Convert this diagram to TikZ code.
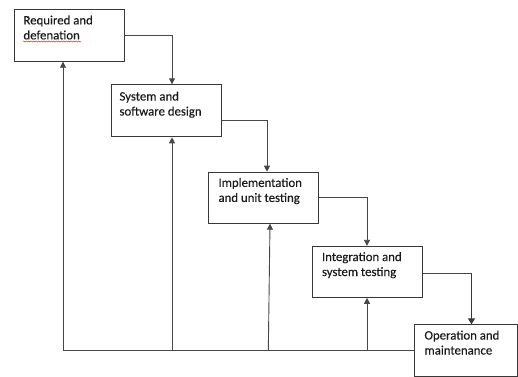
\documentclass[tikz,border=0pt]{standalone}
\usepackage{fontspec}
\setmainfont{Carlito}[FakeBold=0.3]
\usetikzlibrary{arrows.meta,decorations.pathmorphing}
\begin{document}
\begin{tikzpicture}[x=1pt,y=-1pt,
  box/.style={draw=black!78,line width=1pt,anchor=north west,inner sep=0pt,minimum width=110pt,minimum height=52pt},
  txt/.style={anchor=north west,inner sep=0pt,align=left,text=black!90,font=\fontsize{12.8}{15}\selectfont},
  link/.style={draw=black!72,line width=0.9pt},
  arr/.style={link,-{Triangle[length=6pt,width=6pt]}},
  bold arr/.style={draw=black!78,line width=1.8pt,-{Triangle[length=6pt,width=7pt]}}]
\useasboundingbox (0,0) rectangle (518,376);
% boxes
\node[box] (b1) at (14.3,8.7) {};
\node[box] (b2) at (111,84.3) {};
\node[box,minimum height=51pt] (b3) at (208.3,171.7) {};
\node[box,minimum width=109.7pt,minimum height=51pt] (b4) at (312.3,245.8) {};
\node[box,minimum width=102.7pt] (b5) at (414.3,324.3) {};
% texts
\node[txt] (t1) at ([xshift=9pt,yshift=-5pt]b1.north west) {\strut Required and\\defenation};
\node[txt] (t2) at ([xshift=8.3pt,yshift=-5.5pt]b2.north west) {\strut System and\\software design};
\node[txt] (t3) at ([xshift=10pt,yshift=-4.5pt]b3.north west) {\strut Implementation\\and unit testing};
\node[txt] (t4) at ([xshift=9.5pt,yshift=-4.5pt]b4.north west) {\strut Integration and\\system testing};
\node[txt] (t5) at ([xshift=10pt,yshift=-4.5pt]b5.north west) {\strut Operation and\\maintenance};
% spell-check squiggle
\draw[red!85,line width=0.5pt,decorate,decoration={snake,amplitude=0.6pt,segment length=2.5pt}] (23,41.5) -- (81,41.5);
% forward connectors
\coordinate (c1) at (172,0);
\coordinate (c2) at (267,0);
\coordinate (c3) at (367,0);
\coordinate (c4) at (471.5,0);
\draw[arr] (b1.east) -| (c1 |- b2.north);
\draw[arr] ([yshift=-10pt]b2.east) -| (c2 |- b3.north);
\draw[arr] (b3.east) -| (c3 |- b4.north);
\coordinate (k4) at ([yshift=-2pt]b4.east -| c4);
\draw[link,line width=1.2pt] ([yshift=-2pt]b4.east) -- ([xshift=0.9pt]k4);
\draw[bold arr] (k4) -- (c4 |- b5.north);
% feedback
\coordinate (j1) at (63,350.8);
\coordinate (j2) at (172,350.8);
\coordinate (j3) at (268.3,350.8);
\coordinate (j4) at (367,350.8);
\draw[link] (b5.west |- j1) -- (j1);
\draw[arr] (j1) -- (j1 |- b1.south);
\draw[arr] (j2) -- (j2 |- b2.south);
\draw[arr] (j3) -- ([xshift=1.7pt]j3 |- b3.south);
\draw[arr] (j4) -- (j4 |- b4.south);
\end{tikzpicture}
\end{document}
